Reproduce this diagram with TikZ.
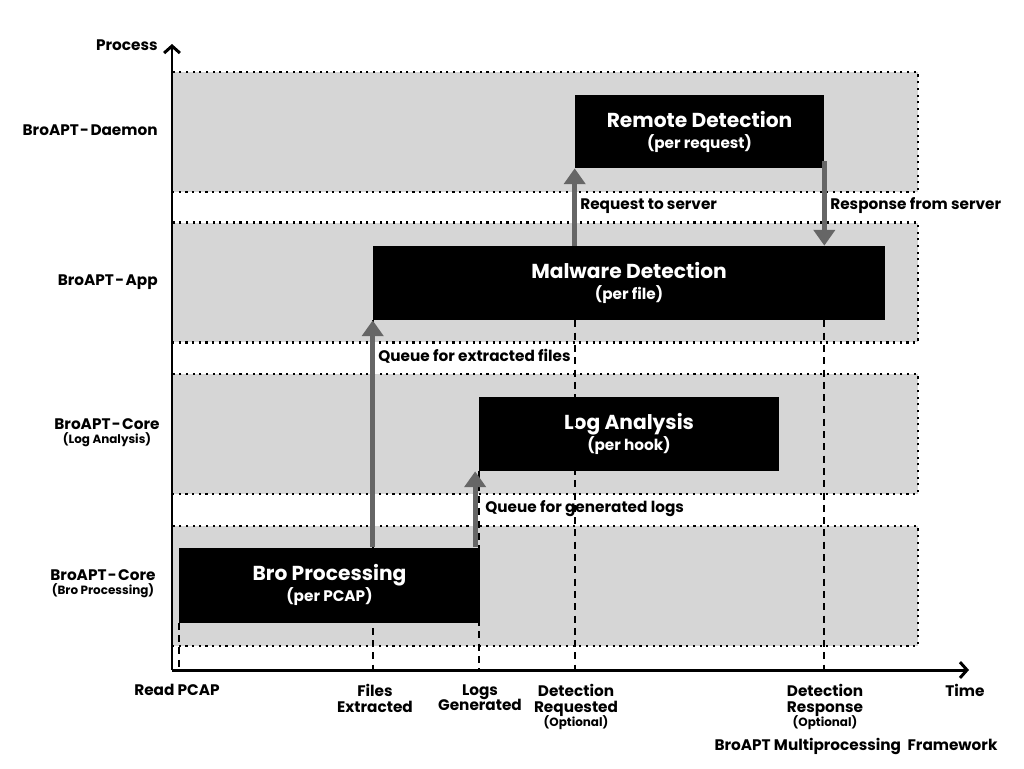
\documentclass[tikz,border=0pt]{standalone}
\usepackage{fontspec}
\setmainfont{Poppins}
\usetikzlibrary{arrows.meta}
\definecolor{lanegray}{HTML}{D6D6D6}
\definecolor{queuegray}{HTML}{666666}
\newcommand{\dsh}{\kern0.8pt-\kern0.8pt}

\begin{document}
\begin{tikzpicture}[x=0.02cm, y=-0.02cm,
  lane/.style={draw, line width=1.2pt, dash pattern=on 1.2pt off 2.6pt, fill=lanegray,
    minimum width=14.92cm, minimum height=2.4cm, inner sep=0pt},
  job/.style={fill=black, text=white, align=center, inner sep=0pt},
  queue/.style={draw=queuegray, line width=3pt, -{Triangle[width=12pt,length=9pt]}},
  tick/.style={line width=1.3pt, dash pattern=on 4pt off 3pt},
  axis/.style={line width=1.7pt, -{Straight Barb[length=4pt,width=9pt]}},
  lbl/.style={font=\bfseries\fontsize{8.7}{10}\selectfont, inner sep=0pt},
  tlbl/.style={font=\bfseries\fontsize{8.7}{9}\selectfont, align=center, anchor=north, inner sep=0pt}]
\useasboundingbox (0,0) rectangle (1024,768);

% process lanes
\foreach \n/\y in {daemon/132, app/282.5, core/434, bro/586}
  \node[lane] (lane-\n) at (545,\y) {};

\node[lbl, anchor=east] (l-daemon) at (158,130) {BroAPT\dsh Daemon};
\node[lbl, anchor=east] (l-app) at (158,282) {BroAPT\dsh App};
\node[lbl, align=center] (l-core) at (107,433) {BroAPT\dsh Core\\[-2pt]{\fontsize{6.8}{7}\selectfont (Log Analysis)}};
\node[lbl, align=center] (l-bro) at (103,584) {BroAPT\dsh Core\\[-2pt]{\fontsize{6.8}{7}\selectfont (Bro Processing)}};

% jobs
\node[job, minimum width=4.98cm, minimum height=1.46cm] (remote) at (699.5,131.5)
  {{\bfseries\fontsize{11.5}{12}\selectfont Remote Detection}\\[0pt]{\bfseries\fontsize{8.7}{10}\selectfont (per request)}};
\node[job, minimum width=10.24cm, minimum height=1.48cm] (malware) at (629,283)
  {{\bfseries\fontsize{11.5}{12}\selectfont Malware Detection}\\[0pt]{\bfseries\fontsize{8.7}{10}\selectfont (per file)}};
\node[job, minimum width=6cm, minimum height=1.48cm] (log) at (629,434)
  {{\bfseries\fontsize{11.5}{12}\selectfont Log Analysis}\\[0pt]{\bfseries\fontsize{8.7}{10}\selectfont (per hook)}};
\node[job, minimum width=6.02cm, minimum height=1.5cm] (bro) at (329.5,585)
  {{\bfseries\fontsize{11.5}{12}\selectfont Bro Processing}\\[0pt]{\bfseries\fontsize{8.7}{10}\selectfont (per PCAP)}};

\coordinate (o) at (172,670);

% time marks
\foreach \p in {bro.south west, malware.south west, log.south west}
  \draw[tick] (\p) -- (\p |- o);
\draw[tick] (remote.south west |- malware.south) -- (remote.south west |- o);
\draw[tick] (remote.south east |- malware.south) -- (remote.south east |- o);

% queues
\draw[queue] (malware.south west |- bro.north) -- (malware.south west);
\draw[queue] ([xshift=-2pt]log.south west |- bro.north) -- ([xshift=-2pt]log.south west);
\draw[queue] (remote.south west |- malware.north) -- (remote.south west);
\draw[queue] ([yshift=4pt]remote.south east) -- (remote.south east |- malware.north);

\node[lbl, anchor=west] (q-files) at (378,356) {Queue for extracted files};
\node[lbl, anchor=west] (q-logs) at (485,509) {Queue for generated logs};
\node[lbl, anchor=west] (q-req) at (580,206) {Request to server};
\node[lbl, anchor=west] (q-resp) at (830,206) {Response from server};

% axes
\draw[axis] (o) -- (172,44);
\draw[axis] (o) -- (969,670);
\node[lbl, anchor=east] (process) at (158,45) {Process};

\node[tlbl] (t-read) at (177,684) {Read PCAP};
\node[tlbl] (t-files) at (375,684) {Files\\Extracted};
\node[tlbl] (t-logs) at (480,684) {Logs\\Generated};
\node[tlbl] (t-req) at (576,684) {Detection\\Requested\\[-1pt]{\fontsize{6.8}{7}\selectfont (Optional)}};
\node[tlbl] (t-resp) at (825,684) {Detection\\Response\\[-1pt]{\fontsize{6.8}{7}\selectfont (Optional)}};
\node[tlbl] (t-time) at (965,684) {Time};
\node[tlbl] (title) at (856,738) {BroAPT Multiprocessing\ \ Framework};
\end{tikzpicture}
\end{document}
